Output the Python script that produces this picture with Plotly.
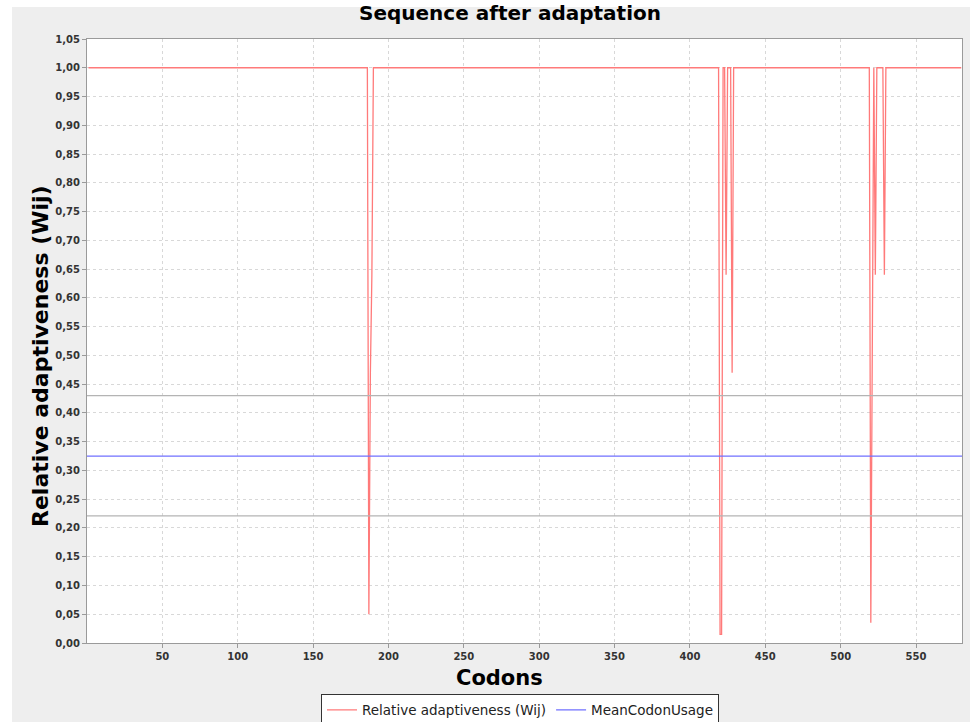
import plotly.graph_objects as go

# ---- data ----
n_codons = 580
base_value = 1.0
dip_codons = [187, 188, 189,
              420, 421, 424, 428,
              520, 521, 523, 529]
dip_values = [0.05, 0.47, 0.64,
              0.015, 0.015, 0.64, 0.47,
              0.035, 0.64, 0.64, 0.64]
mean_codon_usage = 0.325
band_upper = 0.43
band_lower = 0.221
y_ticks = [round(i * 0.05, 2) for i in range(22)]
x_ticks = [50, 100, 150, 200, 250, 300, 350, 400, 450, 500, 550]

codons = list(range(1, n_codons + 1))
wij = [base_value] * n_codons
for c, v in zip(dip_codons, dip_values):
    wij[c - 1] = v

fig = go.Figure()
fig.add_trace(go.Scatter(x=codons, y=wij, mode="lines",
                         name="Relative adaptiveness (Wij)",
                         line=dict(color="#ff7a7a", width=1.3)))
fig.add_trace(go.Scatter(x=[0, n_codons + 0.5], y=[mean_codon_usage] * 2, mode="lines",
                         name="MeanCodonUsage",
                         line=dict(color="#7070ff", width=1.3)))
fig.add_trace(go.Scatter(x=[0, n_codons + 0.5], y=[band_upper] * 2, mode="lines",
                         showlegend=False, line=dict(color="#b4b4b4", width=1.3)))
fig.add_trace(go.Scatter(x=[0, n_codons + 0.5], y=[band_lower] * 2, mode="lines",
                         showlegend=False, line=dict(color="#b4b4b4", width=1.3)))

axis_common = dict(showgrid=True, gridcolor="#d8d8d8", griddash="dot", gridwidth=1,
                   showline=True, linecolor="#9a9a9a", linewidth=1, mirror=True,
                   ticks="outside", ticklen=4, tickcolor="#9a9a9a", zeroline=False,
                   tickfont=dict(family="DejaVu Sans", size=10, color="#333333",
                                 weight="bold"))

L, R, T, B = 87, 962, 39, 643
PW, PH = R - L, B - T

def px(xp):
    return (xp - L) / PW

def py(yp):
    return (B - yp) / PH

fig.update_layout(
    width=970, height=722,
    margin=dict(l=L, r=970 - R, t=T, b=722 - B, autoexpand=False),
    paper_bgcolor="#eeeeee", plot_bgcolor="white",
    separators=", ",
    title=dict(text="<b>Sequence after adaptation</b>", x=510 / 970, xanchor="center",
               y=1 - 13 / 722, yanchor="middle",
               font=dict(family="DejaVu Sans", size=20, color="black")),
    xaxis=dict(range=[0, n_codons + 0.5], tickvals=x_ticks, **axis_common),
    yaxis=dict(range=[0, 1.05], tickvals=y_ticks, tickformat=".2f", **axis_common),
    legend=dict(orientation="h", x=px(520), xanchor="center", y=py(710), yanchor="middle",
                bgcolor="white", bordercolor="#333333", borderwidth=1,
                font=dict(family="DejaVu Sans", size=13.5, color="#222222"),
                tracegroupgap=0),
    showlegend=True,
    annotations=[
        dict(text="<b>Codons</b>", xref="paper", yref="paper", x=px(499), y=py(678),
             xanchor="center", yanchor="middle", showarrow=False,
             font=dict(family="DejaVu Sans", size=21, color="black")),
        dict(text="<b>Relative adaptiveness (Wij)</b>", xref="paper", yref="paper",
             x=px(40), y=py(356), xanchor="center", yanchor="middle", showarrow=False,
             textangle=-90,
             font=dict(family="DejaVu Sans", size=22, color="black")),
    ],
    shapes=[
        dict(type="rect", xref="paper", yref="paper", x0=-0.2, x1=px(12),
             y0=-0.2, y1=1.2, fillcolor="white", line=dict(width=0), layer="below"),
        dict(type="rect", xref="paper", yref="paper", x0=-0.2, x1=1.2,
             y0=py(7), y1=1.2, fillcolor="white", line=dict(width=0), layer="below"),
    ],
)

fig.write_html("out.html")
